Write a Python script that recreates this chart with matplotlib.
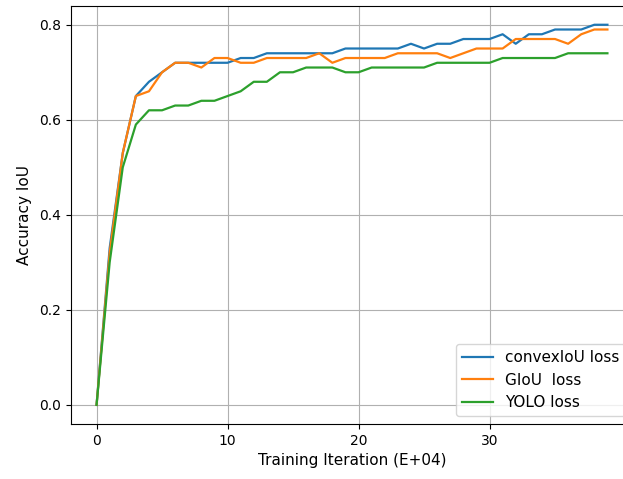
from matplotlib import pyplot as plt

# training iterations (E+04)
iterations = list(range(40))

convex_iou = [0.0, 0.33, 0.53, 0.65, 0.68, 0.70, 0.72, 0.72, 0.72, 0.72,
              0.72, 0.73, 0.73, 0.74, 0.74, 0.74, 0.74, 0.74, 0.74, 0.75,
              0.75, 0.75, 0.75, 0.75, 0.76, 0.75, 0.76, 0.76, 0.77, 0.77,
              0.77, 0.78, 0.76, 0.78, 0.78, 0.79, 0.79, 0.79, 0.80, 0.80]

giou = [0.0, 0.32, 0.53, 0.65, 0.66, 0.70, 0.72, 0.72, 0.71, 0.73,
        0.73, 0.72, 0.72, 0.73, 0.73, 0.73, 0.73, 0.74, 0.72, 0.73,
        0.73, 0.73, 0.73, 0.74, 0.74, 0.74, 0.74, 0.73, 0.74, 0.75,
        0.75, 0.75, 0.77, 0.77, 0.77, 0.77, 0.76, 0.78, 0.79, 0.79]

yolo = [0.0, 0.30, 0.50, 0.59, 0.62, 0.62, 0.63, 0.63, 0.64, 0.64,
        0.65, 0.66, 0.68, 0.68, 0.70, 0.70, 0.71, 0.71, 0.71, 0.70,
        0.70, 0.71, 0.71, 0.71, 0.71, 0.71, 0.72, 0.72, 0.72, 0.72,
        0.72, 0.73, 0.73, 0.73, 0.73, 0.73, 0.74, 0.74, 0.74, 0.74]

series_labels = ["convexIoU loss", "GIoU  loss", "YOLO loss"]

fig = plt.figure(figsize=(6.23, 4.79), dpi=100)
# right edge of the axes runs past the picture, as in the cropped original
ax = fig.add_axes([0.114, 0.115, 0.902, 0.873])

for values, label in zip([convex_iou, giou, yolo], series_labels):
    ax.plot(iterations, values, label=label, linewidth=1.6)

ax.set_xlabel("Training Iteration (E+04)", fontsize=11)
ax.set_ylabel("Accuracy IoU", fontsize=11, labelpad=5)
ax.set_xticks([0, 10, 20, 30])
ax.set_yticks([0.0, 0.2, 0.4, 0.6, 0.8])
ax.spines["right"].set_visible(False)
ax.grid(True)
ax.legend(loc="lower right", fontsize=11)

fig.savefig("out.png", dpi=100)
